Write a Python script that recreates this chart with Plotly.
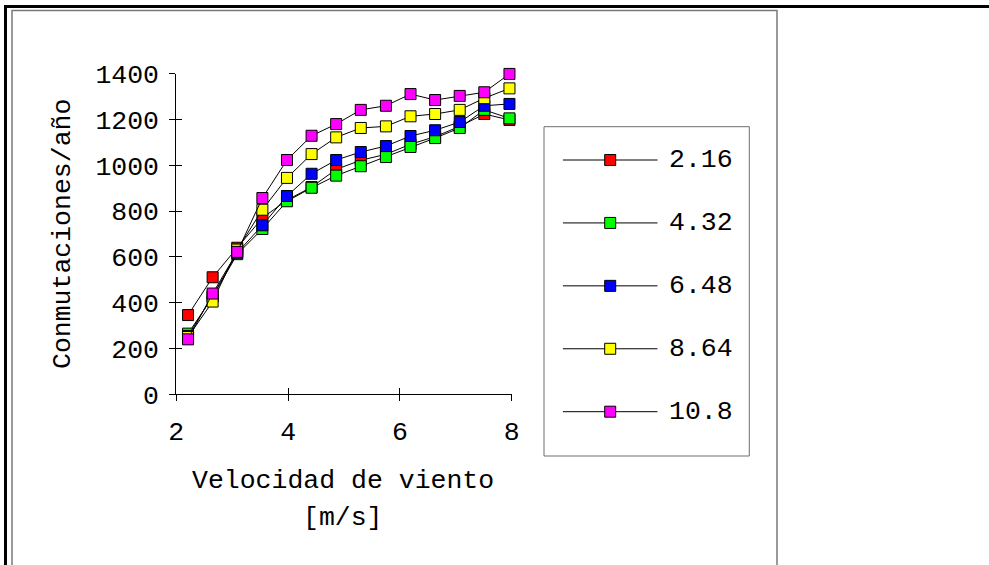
import plotly.graph_objects as go

# ---------------- data ----------------
wind_speed = [2.21, 2.65, 3.09, 3.54, 3.98, 4.42, 4.86, 5.30, 5.75, 6.19, 6.63, 7.07, 7.51, 7.96]
series_names = ["2.16", "4.32", "6.48", "8.64", "10.8"]
s_216 = [346, 511, 640, 770, 848, 905, 982, 1022, 1048, 1092, 1125, 1170, 1224, 1198]
s_432 = [265, 425, 612, 722, 843, 902, 955, 996, 1036, 1080, 1119, 1163, 1242, 1205]
s_648 = [255, 430, 618, 738, 866, 963, 1023, 1058, 1084, 1128, 1153, 1189, 1260, 1268]
s_864 = [250, 405, 632, 806, 945, 1049, 1122, 1163, 1170, 1214, 1224, 1242, 1293, 1336]
s_108 = [240, 440, 622, 857, 1023, 1129, 1180, 1242, 1260, 1311, 1285, 1303, 1319, 1399]
series_values = [s_216, s_432, s_648, s_864, s_108]
x_ticks = [2, 4, 6, 8]
y_ticks = [0, 200, 400, 600, 800, 1000, 1200, 1400]
x_title = "Velocidad de viento"
x_unit = "[m/s]"
y_title = "Conmutaciones/año"

# ---------------- style ----------------
W, H = 989, 565
colors = ["#FF0000", "#00FF00", "#0000FF", "#FFFF00", "#FF00FF"]
FONT = "Liberation Mono, Courier New, monospace"
FS = 26.5


def px(X):
    return X / W


def py(Y):
    return 1 - Y / H


fig = go.Figure()

for name, vals, col in zip(series_names, series_values, colors):
    fig.add_trace(go.Scatter(
        x=wind_speed, y=vals, name=name, mode="lines+markers",
        line=dict(color="black", width=1),
        marker=dict(symbol="square", size=11, color=col, line=dict(color="black", width=1)),
        cliponaxis=False, showlegend=False, xaxis="x", yaxis="y"))

# dummy traces so the overlay axes (inner tick halves) are drawn
fig.add_trace(go.Scatter(x=[], y=[], xaxis="x2", yaxis="y", showlegend=False))
fig.add_trace(go.Scatter(x=[], y=[], xaxis="x", yaxis="y2", showlegend=False))

# custom legend (long line samples like the reference)
for i, (name, col) in enumerate(zip(series_names, colors)):
    fig.add_trace(go.Scatter(x=[0, 1], y=[i, i], mode="lines",
                             line=dict(color="black", width=1),
                             xaxis="x3", yaxis="y3", showlegend=False, hoverinfo="skip"))
    fig.add_trace(go.Scatter(x=[0.5], y=[i], mode="markers",
                             marker=dict(symbol="square", size=11, color=col,
                                         line=dict(color="black", width=1)),
                             xaxis="x3", yaxis="y3", showlegend=False, hoverinfo="skip",
                             cliponaxis=False))

xdom = [px(176.3), px(511.7)]
ydom = [py(394.3), py(73.7)]

axis_common = dict(showgrid=False, zeroline=False, color="black", automargin=False,
                   tickfont=dict(family=FONT, size=FS, color="black"))

annotations = []
for i, name in enumerate(series_names):
    annotations.append(dict(text=name, xref="paper", yref="y3", x=px(667), y=i,
                            xanchor="left", yanchor="middle", showarrow=False,
                            font=dict(family=FONT, size=FS, color="black")))
annotations.append(dict(text=y_title, xref="paper", yref="paper", x=px(63), y=py(234),
                        textangle=-90, showarrow=False, xanchor="center", yanchor="middle",
                        font=dict(family=FONT, size=FS, color="black")))
annotations.append(dict(text=x_title, xref="paper", yref="paper", x=px(343), y=py(481),
                        showarrow=False, xanchor="center", yanchor="middle",
                        font=dict(family=FONT, size=FS, color="black")))
annotations.append(dict(text=x_unit, xref="paper", yref="paper", x=px(343), y=py(518),
                        showarrow=False, xanchor="center", yanchor="middle",
                        font=dict(family=FONT, size=FS, color="black")))

shapes = [
    # outer thick frame (top and left)
    dict(type="line", xref="paper", yref="paper", x0=px(4), x1=px(989), y0=py(6.5), y1=py(6.5),
         line=dict(color="black", width=3)),
    dict(type="line", xref="paper", yref="paper", x0=px(5.5), x1=px(5.5), y0=py(5), y1=py(570),
         line=dict(color="black", width=3)),
    # inner chart frame
    dict(type="rect", xref="paper", yref="paper", x0=px(12), x1=px(777), y0=py(10.5), y1=py(575),
         line=dict(color="#7a7a7a", width=1.5)),
    # legend box
    dict(type="rect", xref="paper", yref="paper", x0=px(544), x1=px(749.3), y0=py(126.7), y1=py(456),
         line=dict(color="#6e6e6e", width=1)),
]

fig.update_layout(
    width=W, height=H,
    margin=dict(l=0, r=0, t=0, b=0, pad=0, autoexpand=False),
    paper_bgcolor="white", plot_bgcolor="white",
    showlegend=False,
    xaxis=dict(domain=xdom, range=[2, 8], tickvals=x_ticks, ticks="outside", ticklen=6,
               tickwidth=1, tickcolor="black", showline=True, linecolor="black", linewidth=1,
               anchor="y", ticklabelstandoff=7, **axis_common),
    xaxis2=dict(domain=xdom, range=[2, 8], tickvals=x_ticks, ticks="inside", ticklen=6,
                tickwidth=1, tickcolor="black", showline=False, showticklabels=False,
                overlaying="x", anchor="y", side="bottom", showgrid=False, zeroline=False,
                automargin=False),
    yaxis=dict(domain=ydom, range=[0, 1400], tickvals=y_ticks, ticks="outside", ticklen=6,
               tickwidth=1, tickcolor="black", showline=True, linecolor="black", linewidth=1,
               anchor="x", ticklabelstandoff=5, **axis_common),
    yaxis2=dict(domain=ydom, range=[0, 1400], tickvals=y_ticks, ticks="inside", ticklen=6,
                tickwidth=1, tickcolor="black", showline=False, showticklabels=False,
                overlaying="y", anchor="x", side="left", showgrid=False, zeroline=False,
                automargin=False),
    xaxis3=dict(domain=[px(562.7), px(657.7)], range=[0, 1], visible=False, anchor="y3",
                automargin=False),
    yaxis3=dict(domain=[py(443.15), py(128.55)], range=[4.5, -0.5], visible=False, anchor="x3",
                automargin=False),
    annotations=annotations,
    shapes=shapes,
)

fig.write_html("out.html")
